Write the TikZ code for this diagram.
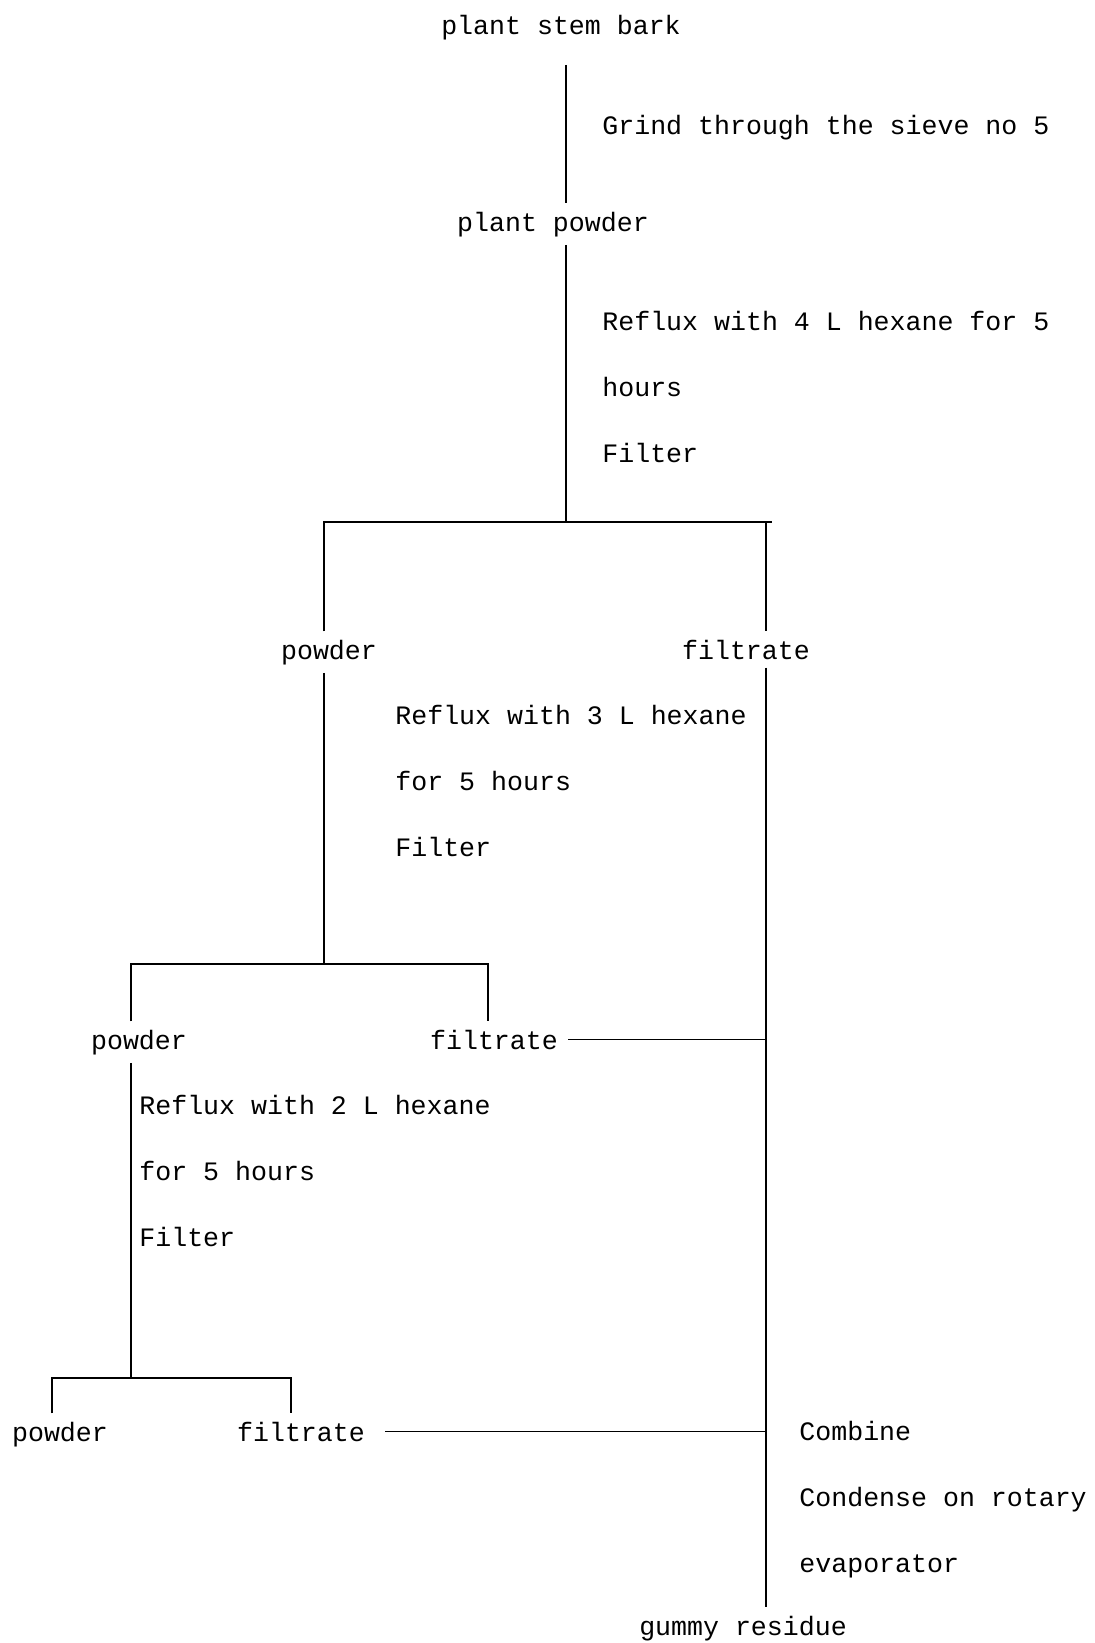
\documentclass[tikz,border=0pt]{standalone}
\usepackage{fontspec}
\setmonofont{Liberation Mono}
\usetikzlibrary{positioning}

\begin{document}
\begin{tikzpicture}[
  x=0.5pt, y=-0.5pt,
  item/.style={inner xsep=5pt, inner ysep=4pt, anchor=base, font=\ttfamily\fontsize{13.3}{32.8}\selectfont},
  note/.style={inner sep=0pt, anchor=base west, align=left, font=\ttfamily\fontsize{13.3}{32.8}\selectfont},
  link/.style={line width=0.7pt}
]
\useasboundingbox (0,0) rectangle (1095,1643);

\node[item] (bark) at (561,35) {plant stem bark};
\node[item] (pp) at (553,231) {plant powder};
\node[item] (pw1) at (329,659) {powder};
\node[item] (ft1) at (746,659) {filtrate};
\node[item] (pw2) at (139,1049) {powder};
\node[item] (ft2) at (494,1049) {filtrate};
\node[item] (pw3) at (60,1441) {powder};
\node[item] (ft3) at (301,1441) {filtrate};
\node[item] (gummy) at (743,1635) {gummy residue};

% notes are placed by the baseline of their last line
\node[note] (grind) at (602,134) {Grind through the sieve no 5};
\node[note] (reflux1) at (602,462) {Reflux with 4 L hexane for 5\\hours\\Filter};
\node[note] (reflux2) at (395,856) {Reflux with 3 L hexane\\for 5 hours\\Filter};
\node[note] (reflux3) at (139,1246) {Reflux with 2 L hexane\\for 5 hours\\Filter};
\node[note] (combine) at (799,1572) {Combine\\Condense on rotary\\evaporator};

\coordinate (s1) at (566,522);
\coordinate (s1l) at (324,522);
\coordinate (s1r) at (766,522);
\coordinate (s2) at (324,964);
\coordinate (s2l) at (131,964);
\coordinate (s2r) at (488,964);
\coordinate (s3) at (131,1378);
\coordinate (s3l) at (52,1378);
\coordinate (s3r) at (291,1378);
\coordinate (tail) at (766,1607);

\draw[link] ([yshift=-8pt]bark.south -| s1) -- (pp.north -| s1);
\draw[link] (pp.south -| s1) -- (s1);
\draw[link] (s1l |- pw1.north) -- (s1l) -- ([xshift=3pt]s1r);
\draw[link] (s1r) -- (s1r |- ft1.north);
\draw[link] (pw1.south -| s2) -- (s2);
\draw[link] (s2l |- pw2.north) -- (s2l) -- (s2r) -- (s2r |- ft2.north);
\draw[link] (pw2.south -| s3) -- (s3);
\draw[link] (s3l |- pw3.north) -- (s3l) -- (s3r) -- (s3r |- ft3.north);
\draw[link] (ft1.south -| tail) -- (tail);
\draw[link] (ft2.east) -- (ft2.east -| tail);
\draw[link] ([xshift=5pt]ft3.east) -- (ft3.east -| tail);
\end{tikzpicture}
\end{document}
